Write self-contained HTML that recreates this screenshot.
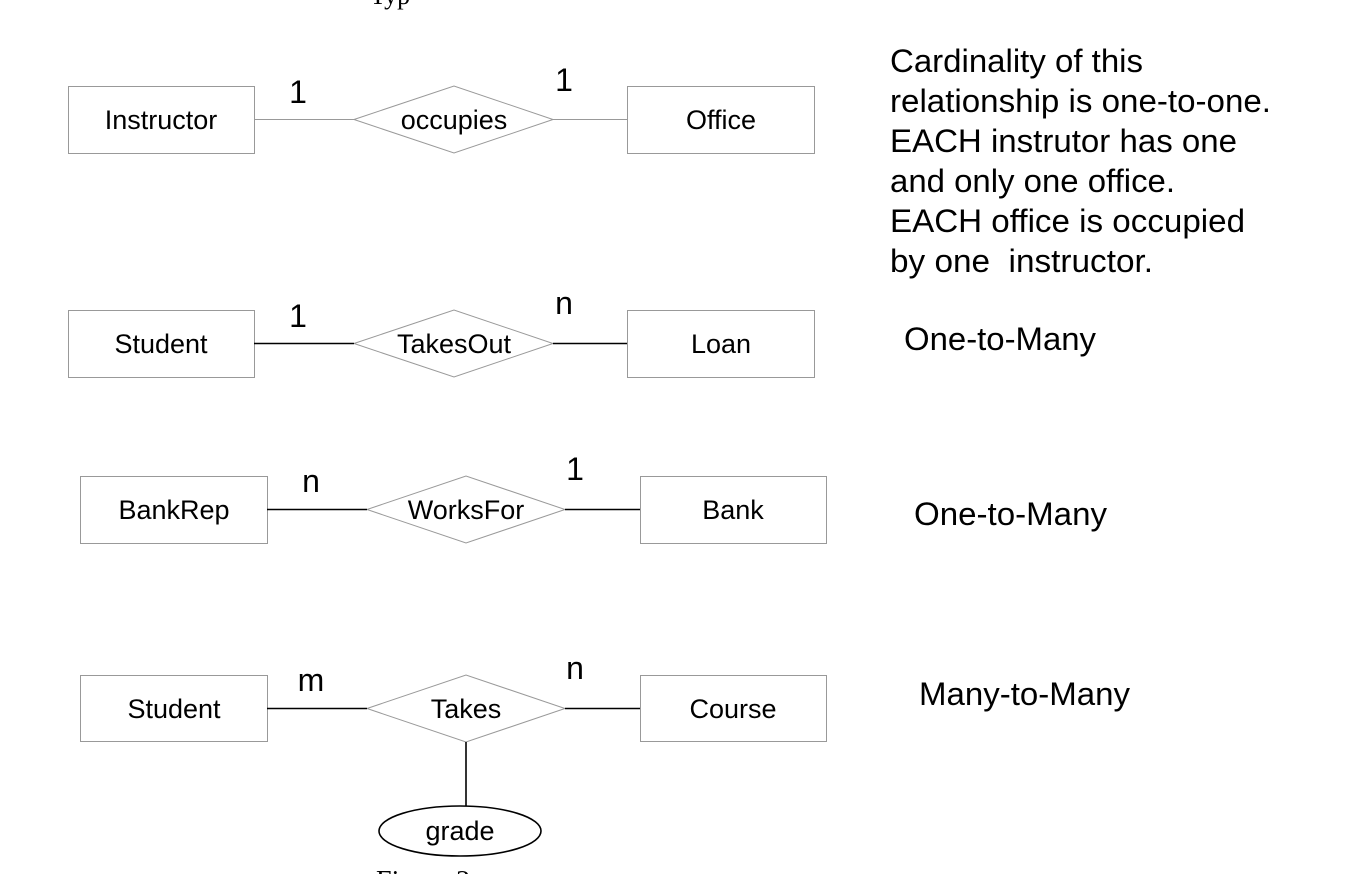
<!DOCTYPE html>
<html><head><meta charset="utf-8"><style>
html,body{margin:0;padding:0;background:#fff;}
svg{display:block;font-family:"Liberation Sans",Arial,sans-serif;}
</style></head><body>
<svg width="1346" height="874" viewBox="0 0 1346 874" xmlns="http://www.w3.org/2000/svg">
<text x="370" y="4" font-family="Liberation Serif" font-size="26">Typ</text>
<g fill="#fff" stroke="#999" stroke-width="1">
<rect x="68.5" y="86.5" width="186" height="67"/>
<rect x="627.5" y="86.5" width="187" height="67"/>
<polygon points="354,119.5 454,86 553,119.5 454,153"/>
<rect x="68.5" y="310.5" width="186" height="67"/>
<rect x="627.5" y="310.5" width="187" height="67"/>
<polygon points="354,343.5 454,310 553,343.5 454,377"/>
<rect x="80.5" y="476.5" width="187" height="67"/>
<rect x="640.5" y="476.5" width="186" height="67"/>
<polygon points="367,509.5 466,476 565,509.5 466,543"/>
<rect x="80.5" y="675.5" width="187" height="66"/>
<rect x="640.5" y="675.5" width="186" height="66"/>
<polygon points="367,708.5 466,675 565,708.5 466,742"/>
</g>
<g stroke="#999" stroke-width="1">
<line x1="254" y1="119.5" x2="354" y2="119.5"/>
<line x1="553" y1="119.5" x2="627" y2="119.5"/>
</g>
<g stroke="#000" stroke-width="1.6">
<line x1="254" y1="343.5" x2="354" y2="343.5"/>
<line x1="553" y1="343.5" x2="627" y2="343.5"/>
<line x1="267" y1="509.5" x2="367" y2="509.5"/>
<line x1="565" y1="509.5" x2="640" y2="509.5"/>
<line x1="267" y1="708.5" x2="367" y2="708.5"/>
<line x1="565" y1="708.5" x2="640" y2="708.5"/>
<line x1="466" y1="742" x2="466" y2="806"/>
</g>
<ellipse cx="460" cy="831" rx="81" ry="25" fill="#fff" stroke="#000" stroke-width="1.6"/>
<g font-size="27" text-anchor="middle" fill="#000">
<text x="161" y="129">Instructor</text>
<text x="454" y="129">occupies</text>
<text x="721" y="129">Office</text>
<text x="161" y="353">Student</text>
<text x="454" y="353">TakesOut</text>
<text x="721" y="353">Loan</text>
<text x="174" y="519">BankRep</text>
<text x="466" y="519">WorksFor</text>
<text x="733" y="519">Bank</text>
<text x="174" y="718">Student</text>
<text x="466" y="718">Takes</text>
<text x="733" y="718">Course</text>
<text x="460" y="840">grade</text>
</g>
<g font-size="32" text-anchor="middle" fill="#000">
<text x="298" y="103">1</text>
<text x="564" y="91">1</text>
<text x="298" y="327">1</text>
<text x="564" y="314">n</text>
<text x="311" y="492">n</text>
<text x="575" y="480">1</text>
<text x="311" y="691">m</text>
<text x="575" y="679">n</text>
</g>
<g font-size="32" fill="#000" lengthAdjust="spacingAndGlyphs">
<text x="890" y="72" textLength="253" lengthAdjust="spacingAndGlyphs">Cardinality of this</text>
<text x="890" y="112" textLength="381" lengthAdjust="spacingAndGlyphs">relationship is one-to-one.</text>
<text x="890" y="152" textLength="347" lengthAdjust="spacingAndGlyphs">EACH instrutor has one</text>
<text x="890" y="192" textLength="285" lengthAdjust="spacingAndGlyphs">and only one office.</text>
<text x="890" y="232" textLength="355" lengthAdjust="spacingAndGlyphs">EACH office is occupied</text>
<text x="890" y="272" textLength="263" lengthAdjust="spacingAndGlyphs" xml:space="preserve">by one  instructor.</text>
<text x="904" y="350" textLength="192" lengthAdjust="spacingAndGlyphs">One-to-Many</text>
<text x="914" y="525" textLength="193" lengthAdjust="spacingAndGlyphs">One-to-Many</text>
<text x="919" y="705" textLength="211" lengthAdjust="spacingAndGlyphs">Many-to-Many</text>
</g>
<text x="376" y="890" font-family="Liberation Serif" font-size="28">Figure 2</text>
</svg>
</body></html>
